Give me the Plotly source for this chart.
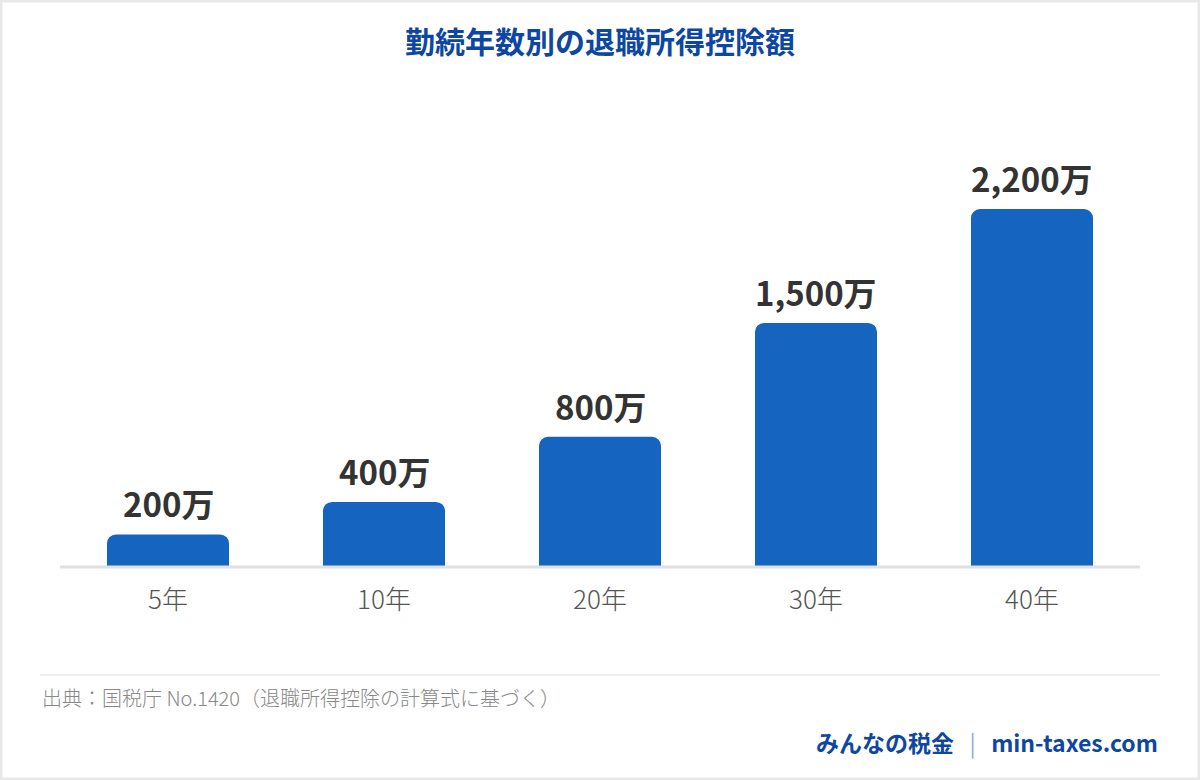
import plotly.graph_objects as go

CATEGORIES = ["5年", "10年", "20年", "30年", "40年"]
DEDUCTION = [200, 400, 800, 1500, 2200]  # 万円
VALUE_LABELS = ["200万", "400万", "800万", "1,500万", "2,200万"]

TITLE = "勤続年数別の退職所得控除額"
SOURCE = "出典：国税庁 No.1420（退職所得控除の計算式に基づく）"
BRAND_JA = "みんなの税金"
BRAND_URL = "min-taxes.com"

W, H = 1200, 780
L, R, T, B = 60, 60, 120, 213
PW, PH = W - L - R, H - T - B

BLUE = "#1565C0"
DARK_BLUE = "#0D47A1"
JP = "Noto Sans CJK JP, sans-serif"


def px_x(p):
    return (p - L) / PW


def px_y(p):
    return (H - B - p) / PH


def main():
    fig = go.Figure(go.Bar(
        x=CATEGORIES,
        y=DEDUCTION,
        marker=dict(color=BLUE, line=dict(width=0)),
        hoverinfo="skip",
    ))

    for cat, val, lab in zip(CATEGORIES, DEDUCTION, VALUE_LABELS):
        fig.add_annotation(x=cat, y=val, text=f"<b>{lab}</b>", showarrow=False,
                           yanchor="bottom", yshift=5,
                           font=dict(family=JP, size=33, color="#333333"))

    fig.add_annotation(xref="paper", yref="paper", x=0.5, y=px_y(40),
                       text=f"<b>{TITLE}</b>", showarrow=False,
                       xanchor="center", yanchor="middle",
                       font=dict(family=JP, size=30, color=DARK_BLUE))
    fig.add_annotation(xref="paper", yref="paper", x=px_x(40), y=px_y(697),
                       text=SOURCE, showarrow=False, xanchor="left", yanchor="middle",
                       font=dict(family=JP, size=20, color="#888888", weight=300))
    sep = "\u00a0" * 3
    brand = (f"<b>{BRAND_JA}</b>"
             f"<span style='color:#8fa9d4'>{sep}|{sep}</span>"
             f"<b>{BRAND_URL}</b>")
    fig.add_annotation(xref="paper", yref="paper", x=px_x(1160), y=px_y(742),
                       text=brand, showarrow=False, xanchor="right", yanchor="middle",
                       font=dict(family=JP, size=23, color=DARK_BLUE))

    # baseline, footer rule, card border
    fig.add_shape(type="line", xref="paper", yref="paper", x0=0, x1=1, y0=0, y1=0,
                  line=dict(color="#e0e0e0", width=3))
    fig.add_shape(type="line", xref="paper", yref="paper",
                  x0=px_x(40), x1=px_x(1160), y0=px_y(675), y1=px_y(675),
                  line=dict(color="#eeeeee", width=2))
    fig.add_shape(type="rect", xref="paper", yref="paper",
                  x0=px_x(1), x1=px_x(W - 1), y0=px_y(1), y1=px_y(H - 1),
                  line=dict(color="#e8e8e8", width=3))

    fig.update_layout(
        width=W, height=H,
        margin=dict(l=L, r=R, t=T, b=B, pad=0),
        paper_bgcolor="white", plot_bgcolor="white",
        bargap=0.435, barcornerradius=9,
        showlegend=False,
        font=dict(family=JP),
    )
    fig.update_xaxes(showgrid=False, showline=False, zeroline=False, ticks="",
                     tickfont=dict(family=JP, size=26, color="#555555", weight=300),
                     ticklabelstandoff=15)
    fig.update_yaxes(range=[0, 2747], visible=False, showgrid=False, zeroline=False)

    fig.write_html("out.html", config={"displayModeBar": False},
                   post_script="document.body.style.margin='0';")


if __name__ == "__main__":
    main()
